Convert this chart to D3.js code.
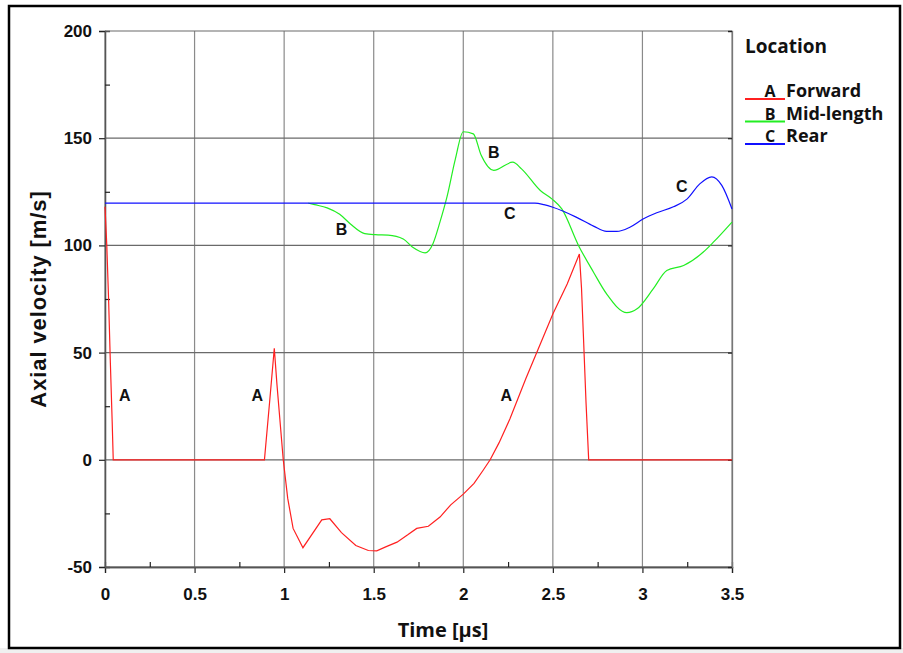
<!DOCTYPE html>
<html>
<head>
<meta charset="utf-8">
<script src="https://cdn.jsdelivr.net/npm/d3@7"></script>
<style>
  body { margin: 0; background: #fff; }
  svg { display: block; }
</style>
</head>
<body>
<div id="chart"></div>
<script>
// series: [time (µs), axial velocity (m/s)]
var forward = [[0,118],[0.01,100],[0.02,75],[0.03,45],[0.04,18],[0.046,0],[0.89,0],[0.92,28],[0.945,52],
  [0.96,35],[0.995,0],[1.02,-18],[1.05,-32],[1.105,-41],[1.21,-28],[1.255,-27.5],[1.32,-34],[1.40,-40],
  [1.47,-42.3],[1.517,-42.5],[1.57,-40.5],[1.63,-38.4],[1.69,-35],[1.74,-32],[1.805,-31],[1.87,-26.7],
  [1.93,-21],[2.0,-16],[2.06,-11],[2.11,-5],[2.15,0],[2.2,8],[2.26,19],[2.35,38],[2.43,54],[2.5,68],
  [2.58,82],[2.648,96],[2.66,80],[2.67,59],[2.685,27],[2.70,0],[3.5,0]];
var midLength = [[1.135,119.7],[1.17,119],[1.24,117.5],[1.31,114.5],[1.37,110],[1.45,105.5],[1.51,105],
  [1.58,104.8],[1.665,103],[1.72,99],[1.787,96.5],[1.83,100.7],[1.87,111],[1.91,123],[1.955,140],[2.0,153],
  [2.056,152],[2.10,142],[2.17,135],[2.276,138.8],[2.325,135.7],[2.43,125.6],[2.494,121.7],[2.55,117],
  [2.643,100],[2.727,87.5],[2.80,77.4],[2.913,68.6],[2.97,70.4],[3.06,79.7],[3.136,88.3],[3.23,90.6],
  [3.34,96.9],[3.396,101.5],[3.5,110.9]];
var rear = [[0,119.7],[2.40,119.7],[2.45,119],[2.50,117.8],[2.63,113.2],[2.727,109],[2.80,106.5],
  [2.857,106.5],[2.93,108.5],[3.006,112.4],[3.08,115.2],[3.173,118],[3.25,121.7],[3.32,128.7],
  [3.387,132],[3.443,128],[3.5,117]];

var xTicks = [0, 0.5, 1, 1.5, 2, 2.5, 3, 3.5];
var yTicks = [-50, 0, 50, 100, 150, 200];
var legendKeys = ["A", "B", "C"];
var legendNames = ["Forward", "Mid-length", "Rear"];
// curve letters placed on the chart, in data units
var curveLabels = [["A",0.11,30],["A",0.85,30],["A",2.24,30],["B",1.32,107.7],["B",2.17,143.6],
  ["C",2.26,115.2],["C",3.22,127.8]];

var colors = ["#ff2020", "#22ee22", "#1010ff"];
var W = 903, H = 653;
var pLeft = 105, pRight = 732, pTop = 31, pBottom = 567;

var svg = d3.select("#chart").append("svg").attr("width", W).attr("height", H);

svg.append("rect").attr("x", 0).attr("y", 648).attr("width", W).attr("height", 5).attr("fill", "#f0f0f0");
svg.append("rect").attr("x", 9).attr("y", 6).attr("width", 891).attr("height", 642)
  .attr("fill", "none").attr("stroke", "#000").attr("stroke-width", 2.5);

var x = d3.scaleLinear().domain([0, 3.5]).range([pLeft, pRight]);
var y = d3.scaleLinear().domain([-50, 200]).range([pBottom, pTop]);

// grid
svg.append("g").selectAll("line").data(xTicks).enter().append("line")
  .attr("x1", x).attr("x2", x).attr("y1", pTop).attr("y2", pBottom)
  .attr("stroke", "#8a8a8a").attr("stroke-width", 1.2);
svg.append("g").selectAll("line").data(yTicks).enter().append("line")
  .attr("x1", pLeft).attr("x2", pRight).attr("y1", y).attr("y2", y)
  .attr("stroke", "#6a6a6a").attr("stroke-width", 1.2);

var tickFont = "'Liberation Sans', Arial, sans-serif";
var plain = function(d) { return String(d); };

// axes: major ticks outside, minor ticks inside
var xAxis = svg.append("g").attr("transform", "translate(0," + pBottom + ")")
  .call(d3.axisBottom(x).tickValues(xTicks).tickSize(6).tickFormat(plain));
var xMinor = svg.append("g").attr("transform", "translate(0," + pBottom + ")")
  .call(d3.axisTop(x).tickValues(d3.range(0.25, 3.5, 0.5)).tickSize(5).tickFormat(""));
var yAxis = svg.append("g").attr("transform", "translate(" + pLeft + ",0)")
  .call(d3.axisLeft(y).tickValues(yTicks).tickSize(6).tickFormat(plain));
var yMinor = svg.append("g").attr("transform", "translate(" + pLeft + ",0)")
  .call(d3.axisRight(y).tickValues(d3.range(-25, 200, 50)).tickSize(5).tickFormat(""));
var yRight = svg.append("g").attr("transform", "translate(" + pRight + ",0)")
  .call(d3.axisLeft(y).tickValues(yTicks).tickSize(4).tickFormat(""));

[xAxis, xMinor, yAxis, yMinor, yRight].forEach(function(g) {
  g.select(".domain").attr("stroke", "#555").attr("stroke-width", 1.3);
  g.selectAll(".tick line").attr("stroke", "#222").attr("stroke-width", 1.2);
});
yRight.select(".domain").attr("stroke", "#777");
[xAxis, yAxis].forEach(function(g) {
  g.attr("font-size", null).attr("font-family", null);
  g.selectAll("text").style("font-family", tickFont).style("font-weight", "bold")
    .style("font-size", "17px").attr("fill", "#111");
});
xAxis.selectAll("text").attr("y", 33).attr("dy", 0);
yAxis.selectAll("text").attr("x", -13);

// curves
var line = d3.line().x(function(d) { return x(d[0]); }).y(function(d) { return y(d[1]); });
[forward, midLength, rear].forEach(function(s, i) {
  svg.append("path").datum(s)
    .attr("d", i == 0 ? line.curve(d3.curveLinear)(s) : line.curve(d3.curveMonotoneX)(s))
    .attr("fill", "none").attr("stroke", colors[i]).attr("stroke-width", 1.2);
});

var labelFont = "'Open Sans', 'DejaVu Sans', sans-serif";
svg.append("g").selectAll("text").data(curveLabels).enter().append("text")
  .attr("x", function(d) { return x(d[1]); })
  .attr("y", function(d) { return y(d[2]); })
  .attr("dy", "0.36em")
  .attr("text-anchor", "middle")
  .attr("font-family", tickFont).attr("font-weight", "bold").attr("font-size", 16)
  .attr("fill", "#111")
  .text(function(d) { return d[0]; });

// axis titles
svg.append("text").attr("x", 443).attr("y", 637)
  .attr("text-anchor", "middle").attr("font-family", labelFont).attr("font-weight", 700)
  .attr("font-size", 20).attr("fill", "#111").text("Time [µs]");
svg.append("text").attr("transform", "translate(46," + ((pTop + pBottom) / 2) + ") rotate(-90)")
  .attr("text-anchor", "middle").attr("font-family", tickFont).attr("font-weight", "bold")
  .attr("font-size", 22).attr("letter-spacing", 0.9).attr("fill", "#111").text("Axial velocity [m/s]");

// legend
var lg = svg.append("g").attr("transform", "translate(745,0)");
lg.append("text").attr("x", 0).attr("y", 53).attr("font-family", labelFont).attr("font-weight", 700)
  .attr("font-size", 19).attr("fill", "#111").text("Location");
var item = lg.selectAll(".item").data(legendNames).enter().append("g")
  .attr("transform", function(d, i) { return "translate(0," + (99 + i * 22.5) + ")"; });
item.append("line").attr("x1", 0).attr("x2", 40).attr("y1", 0).attr("y2", 0)
  .attr("stroke", function(d, i) { return colors[i]; }).attr("stroke-width", 2);
item.append("text").attr("x", 25).attr("y", -2).attr("text-anchor", "middle")
  .attr("font-family", labelFont).attr("font-weight", 700).attr("font-size", 16).attr("fill", "#111")
  .text(function(d, i) { return legendKeys[i]; });
item.append("text").attr("x", 41).attr("y", -2)
  .attr("font-family", labelFont).attr("font-weight", 700).attr("font-size", 18).attr("fill", "#111")
  .text(function(d) { return d; });
</script>
</body>
</html>
